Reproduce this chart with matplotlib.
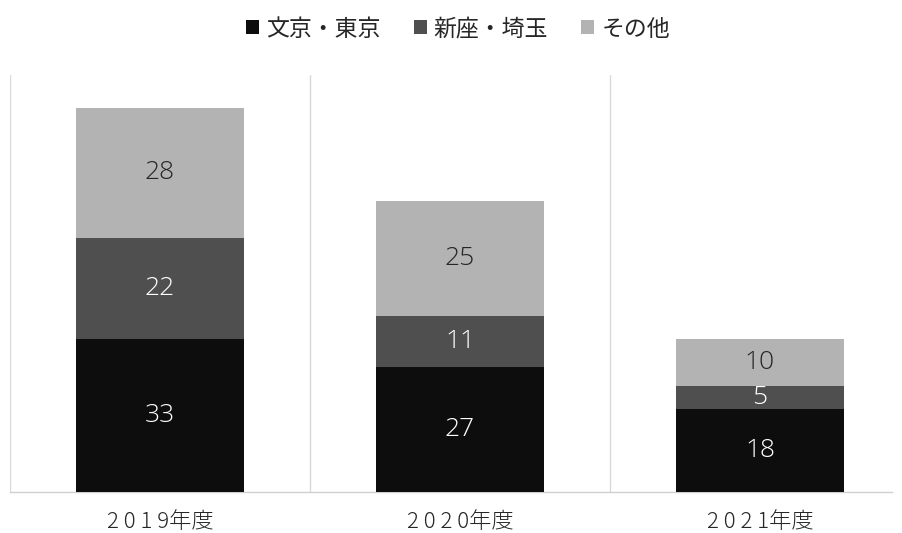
import matplotlib
matplotlib.use("Agg")
import matplotlib.pyplot as plt
import numpy as np

plt.rcParams['font.family'] = ['Noto Sans CJK JP', 'DejaVu Sans']

categories = ["2019年度", "2020年度", "2021年度"]
series_names = ["文京・東京", "新座・埼玉", "その他"]
bunkyo = [33, 27, 18]
niiza = [22, 11, 5]
other = [28, 25, 10]
colors = ["#0d0d0d", "#4f4f4f", "#b3b3b3"]
text_colors = ["white", "white", "#262626"]

fig = plt.figure(figsize=(9.02, 5.33), dpi=100)
W, H = 902, 533
left, right = 10, 892
bottom, top = 492, 75
ax = fig.add_axes([left / W, 1 - bottom / H, (right - left) / W, (bottom - top) / H])

x = np.arange(len(categories))
series = [bunkyo, niiza, other]
base = np.zeros(len(categories))
handles = []
for vals, c, tc, name in zip(series, colors, text_colors, series_names):
    vals = np.array(vals, dtype=float)
    b = ax.bar(x, vals, 0.557, bottom=base, color=c, label=name, zorder=3)
    handles.append(b)
    for xi, v, bs in zip(x, vals, base):
        ax.text(xi, bs + v / 2, f"{int(v)}", ha="center", va="center",
                color=tc, fontsize=19, fontweight="light",
                family=["Open Sans", "DejaVu Sans"], zorder=4)
    base += vals

ax.set_xlim(-0.5, 2.5 - (910 - right) / 300)
ax.set_ylim(0, (bottom - top) / (384 / 83))

for gx in [-0.5, 0.5, 1.5]:
    ax.axvline(gx, color="#d9d9d9", lw=1, zorder=1)

for s in ["top", "right", "left"]:
    ax.spines[s].set_visible(False)
ax.spines["bottom"].set_color("#d0d0d0")
ax.spines["bottom"].set_linewidth(1)
ax.set_yticks([])
ax.set_xticks(x)
ax.set_xticklabels([" ".join(c[:4]) + c[4:] for c in categories], fontsize=16,
                   color="#262626", fontweight="light")
ax.tick_params(axis="x", length=0, pad=14)

leg = fig.legend(handles=handles, labels=series_names, loc="center",
                 bbox_to_anchor=(0.5 + 7 / W, 1 - 29 / H), ncol=3, frameon=False, fontsize=16.5,
                 handlelength=0.57, handleheight=0.57, handletextpad=0.3,
                 columnspacing=1.45, borderpad=0)
for t in leg.get_texts():
    t.set_color("#262626")

fig.savefig("out.png", dpi=100)
